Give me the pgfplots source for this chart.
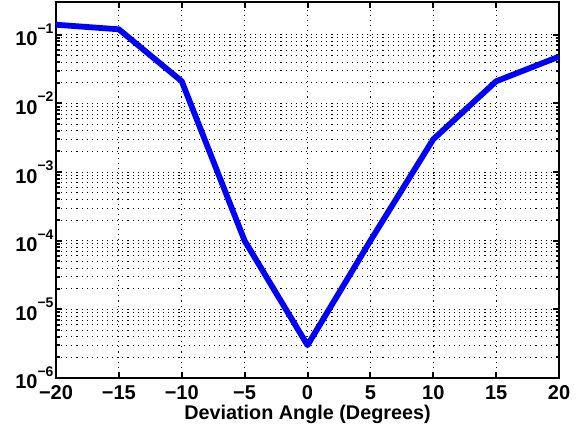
\documentclass[border=0pt]{standalone}
\usepackage{pgfplots}
\pgfplotsset{compat=1.18}
\usepackage{fontspec}
\setmainfont{Liberation Sans}

% exponent label such as 10^-3, set in the text font
\newcommand{\tenexp}[1]{10\raisebox{0.62em}{\fontsize{14}{14}\selectfont #1}}

\begin{document}
\begin{tikzpicture}
\begin{semilogyaxis}[
  scale only axis,
  width=503pt, height=376pt,
  xmin=-20, xmax=20,
  ymin=1e-6, ymax=0.3,
  xtick={-20,-15,...,20},
  xticklabels={−20,−15,−10,−5,0,5,10,15,20},
  ytick={1e-6,1e-5,1e-4,1e-3,1e-2,1e-1},
  yticklabels={\tenexp{−6},\tenexp{−5},\tenexp{−4},\tenexp{−3},\tenexp{−2},\tenexp{−1}},
  minor x tick num=0,
  grid=both,
  major grid style={black, line width=0.9pt, dash pattern=on 1.1pt off 4pt},
  minor grid style={black, line width=0.9pt, dash pattern=on 1.1pt off 4pt},
  axis line style={black, line width=2.4pt},
  tick style={black, line width=2pt},
  major tick length=6pt,
  minor tick length=3.5pt,
  tick align=inside,
  ticklabel style={font=\bfseries\fontsize{20}{20}\selectfont},
  xticklabel style={yshift=-4pt},
  yticklabel style={xshift=1pt},
  xlabel={Deviation Angle (Degrees)},
  xlabel style={font=\bfseries\fontsize{19.8}{19.8}\selectfont, at={(ticklabel cs:0.5)}, anchor=north, yshift=1pt},
]
\addplot[color={rgb,255:red,0;green,0;blue,255}, line width=5.8pt, line join=round] coordinates {
  (-20, 0.14)
  (-15, 0.12)
  (-10, 0.021)
  (-5, 1e-4)
  (0, 3e-6)
  (5, 1e-4)
  (10, 3e-3)
  (15, 0.021)
  (20, 0.048)
};
\end{semilogyaxis}
% page frame: fixed margins round the plot box
\pgfresetboundingbox
\path ([shift={(-56pt,-55pt)}]current axis.south west) rectangle ([shift={(26pt,2pt)}]current axis.north east);
\end{tikzpicture}
\end{document}
